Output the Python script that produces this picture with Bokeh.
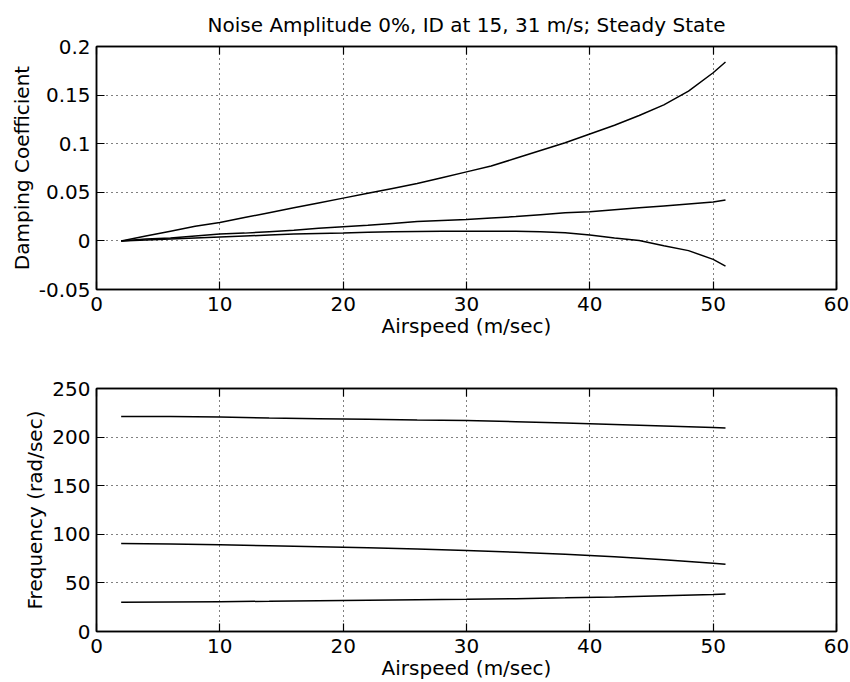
from bokeh.plotting import figure
from bokeh.layouts import column
from bokeh.models import LinearAxis, FixedTicker, CustomJSTickFormatter, Range1d, Title
from bokeh.embed import file_html
from bokeh.resources import INLINE

# ---------------- data ----------------
title_text = "Noise Amplitude 0%, ID at 15, 31 m/s; Steady State"
xlabel = "Airspeed (m/sec)"
ylabel_top = "Damping Coefficient"
ylabel_bot = "Frequency (rad/sec)"

x_ticks = [0, 10, 20, 30, 40, 50, 60]
damp_ticks = [-0.05, 0, 0.05, 0.1, 0.15, 0.2]
freq_ticks = [0, 50, 100, 150, 200, 250]

speed_d = [2, 4, 6, 8, 10, 12, 14, 16, 18, 20, 22, 24, 26, 28, 30, 32, 34, 36,
           38, 40, 42, 44, 46, 48, 50, 51]
damp_1 = [0.000, 0.005, 0.010, 0.015, 0.019, 0.024, 0.029, 0.034, 0.039, 0.044,
          0.049, 0.054, 0.059, 0.065, 0.071, 0.077, 0.085, 0.093, 0.101, 0.110,
          0.119, 0.129, 0.140, 0.154, 0.173, 0.184]
damp_2 = [0.000, 0.002, 0.003, 0.005, 0.007, 0.008, 0.0095, 0.011, 0.013, 0.0145,
          0.016, 0.018, 0.020, 0.021, 0.022, 0.0235, 0.025, 0.027, 0.029, 0.030,
          0.032, 0.034, 0.036, 0.038, 0.040, 0.042]
damp_3 = [0.000, 0.001, 0.002, 0.003, 0.004, 0.005, 0.006, 0.007, 0.0075, 0.008,
          0.0088, 0.0093, 0.0097, 0.0100, 0.0100, 0.0100, 0.0100, 0.0095, 0.0085,
          0.006, 0.003, 0.0005, -0.005, -0.010, -0.019, -0.026]

speed_f = [2, 6, 10, 14, 18, 22, 26, 30, 34, 38, 42, 46, 50, 51]
freq_1 = [221.2, 221.1, 220.6, 219.6, 219.0, 218.4, 217.6, 217.0, 215.9, 214.5,
          213.0, 211.4, 209.8, 209.4]
freq_2 = [90.5, 90.0, 89.2, 88.3, 87.3, 86.2, 84.9, 83.4, 81.6, 79.4, 76.9, 73.8,
          70.3, 69.2]
freq_3 = [30.0, 30.3, 30.7, 31.1, 31.6, 32.1, 32.6, 33.1, 33.8, 34.6, 35.6, 36.8,
          38.1, 38.5]

FONT = "DejaVu Sans"
FS = "20px"

fmt = CustomJSTickFormatter(code="return String(Math.round(tick*10000)/10000);")


def mirror_axis(ticks):
    ax = LinearAxis(ticker=FixedTicker(ticks=ticks),
                    major_tick_in=8, major_tick_out=0, minor_tick_in=0, minor_tick_out=0,
                    axis_line_color="black", axis_line_width=1.5, major_label_standoff=0,
                    major_tick_line_color="black", major_tick_line_width=1.2)
    ax.major_label_text_font_size = FS
    ax.major_label_overrides = {t: "" for t in ticks}
    return ax


def style(p, yticks):
    p.outline_line_color = "black"
    p.outline_line_width = 1.5
    for ax in p.axis:
        ax.axis_line_color = "black"
        ax.axis_line_width = 1.5
        ax.major_tick_in = 8
        ax.major_tick_out = 0
        ax.minor_tick_in = 0
        ax.minor_tick_out = 0
        ax.major_tick_line_color = "black"
        ax.major_tick_line_width = 1.2
        ax.major_label_text_font = FONT
        ax.major_label_text_font_size = FS
        ax.major_label_text_color = "black"
        ax.axis_label_text_font = FONT
        ax.axis_label_text_font_size = FS
        ax.axis_label_text_font_style = "normal"
        ax.axis_label_text_color = "black"
        ax.formatter = fmt
    p.xaxis[0].ticker = FixedTicker(ticks=x_ticks)
    p.yaxis[0].ticker = FixedTicker(ticks=yticks)
    p.xaxis[0].major_label_standoff = 7
    p.yaxis[0].major_label_standoff = 6
    p.xaxis[0].axis_label_standoff = 0
    p.yaxis[0].axis_label_standoff = 2
    for g in p.grid:
        g.grid_line_color = "black"
        g.grid_line_dash = "1 4"
        g.grid_line_width = 1
    p.xgrid[0].ticker = FixedTicker(ticks=x_ticks)
    p.ygrid[0].ticker = FixedTicker(ticks=yticks)
    # mirrored ticks on top and right
    p.add_layout(mirror_axis(x_ticks), "above")
    p.add_layout(mirror_axis(yticks), "right")


p1 = figure(width=850, height=341, output_backend="svg", toolbar_location=None,
            x_range=Range1d(0, 60), y_range=Range1d(-0.05, 0.2),
            min_border_left=96, min_border_right=14, min_border_top=46, min_border_bottom=52,
            x_axis_label=xlabel, y_axis_label=ylabel_top)
p1.title = Title(text=title_text, text_font=FONT, text_font_size=FS,
                 text_font_style="normal", align="center", text_color="black", standoff=20)
for ys in (damp_1, damp_2, damp_3):
    p1.line(speed_d, ys, line_color="black", line_width=1.5)
style(p1, damp_ticks)

p2 = figure(width=850, height=341, output_backend="svg", toolbar_location=None,
            x_range=Range1d(0, 60), y_range=Range1d(0, 250),
            min_border_left=96, min_border_right=14, min_border_top=47, min_border_bottom=51,
            x_axis_label=xlabel, y_axis_label=ylabel_bot)
for ys in (freq_1, freq_2, freq_3):
    p2.line(speed_f, ys, line_color="black", line_width=1.5)
style(p2, freq_ticks)

layout = column(p1, p2, spacing=0)
open("out.html", "w").write(file_html(layout, INLINE))
